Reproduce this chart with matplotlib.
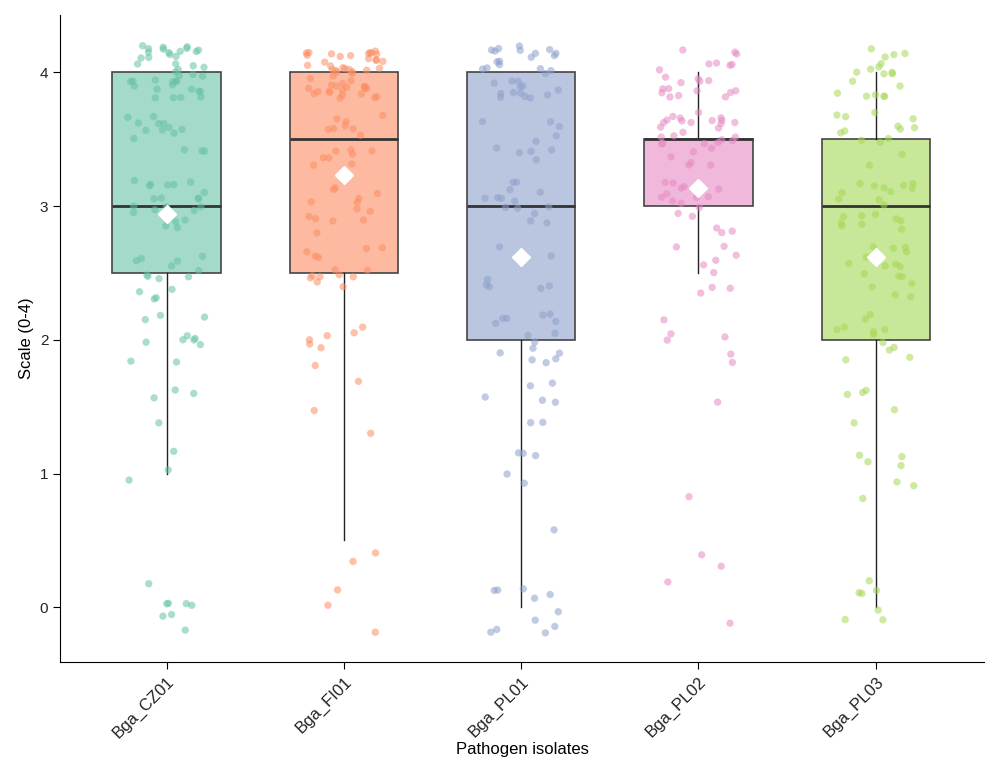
import numpy as np
import matplotlib
matplotlib.use("Agg")
import matplotlib.pyplot as plt

plt.rcParams['font.family'] = ['Liberation Sans', 'DejaVu Sans']

# score levels on the 0-4 scale and how many plants got each score, per isolate
levels = [0, 0.5, 1, 1.5, 2, 2.5, 3, 3.5, 4]
isolates = ['Bga_CZ01', 'Bga_FI01', 'Bga_PL01', 'Bga_PL02', 'Bga_PL03']
counts_cz01 = [8, 0, 3, 4, 11, 14, 22, 14, 40]
counts_fi01 = [3, 2, 0, 3, 7, 14, 14, 16, 50]
counts_pl01 = [11, 1, 5, 7, 15, 8, 14, 10, 31]
counts_pl02 = [2, 2, 1, 1, 6, 9, 18, 30, 22]
counts_pl03 = [7, 0, 7, 5, 12, 16, 20, 14, 18]
all_counts = [counts_cz01, counts_fi01, counts_pl01, counts_pl02, counts_pl03]

colors = ['#66C2A5', '#FC8D62', '#8DA0CB', '#E78AC3', '#A6D854']

scores = [np.repeat(levels, c) for c in all_counts]
pos = np.arange(1, len(isolates) + 1)

fig, ax = plt.subplots(figsize=(10.02, 7.79), dpi=100)
fig.subplots_adjust(left=0.06, right=0.982, bottom=0.15, top=0.981)

bp = ax.boxplot(scores, positions=pos, widths=0.61, patch_artist=True,
                showfliers=False, whis=1.5, showcaps=False, zorder=2,
                medianprops=dict(color='#333333', linewidth=2),
                whiskerprops=dict(color='#222222', linewidth=1),
                boxprops=dict(edgecolor='#444444', linewidth=1.2))
for patch, col in zip(bp['boxes'], colors):
    patch.set_facecolor(matplotlib.colors.to_rgba(col, 0.6))


def scatter_offsets(k, seed):
    # hash-like deterministic offsets in [-1, 1] for the jitter
    v = np.sin(k * 12.9898 + seed * 78.233) * 43758.5453
    return (v - np.floor(v)) * 2 - 1


# jittered points (width 0.22, height 0.2)
for i, (vals, col) in enumerate(zip(scores, colors)):
    k = np.arange(len(vals)) + 1.0
    jx = scatter_offsets(k, 2 * i + 1) * 0.22
    jy = scatter_offsets(k, 2 * i + 2) * 0.2
    ax.scatter(pos[i] + jx, vals + jy, s=28, color=col, alpha=0.55,
               edgecolors='none', zorder=3)

means = [v.mean() for v in scores]
ax.plot(pos, means, linestyle='none', marker='D', markersize=9,
        color='white', markeredgecolor='white', zorder=4)

ax.set_xlim(0.4, 5.61)
ax.set_ylim(-0.41, 4.43)
ax.set_xticks(pos)
ax.set_xticklabels(isolates, rotation=45, ha='right', rotation_mode='anchor',
                   fontsize=12, color='#222222')
ax.set_yticks([0, 1, 2, 3, 4])
ax.tick_params(axis='y', labelsize=11, labelcolor='#222222', length=5)
ax.tick_params(axis='x', length=5)
ax.set_xlabel('Pathogen isolates', fontsize=12, labelpad=1)
ax.set_ylabel('Scale (0-4)', fontsize=12)
ax.spines['top'].set_visible(False)
ax.spines['right'].set_visible(False)

plt.savefig('out.png', dpi=100)
